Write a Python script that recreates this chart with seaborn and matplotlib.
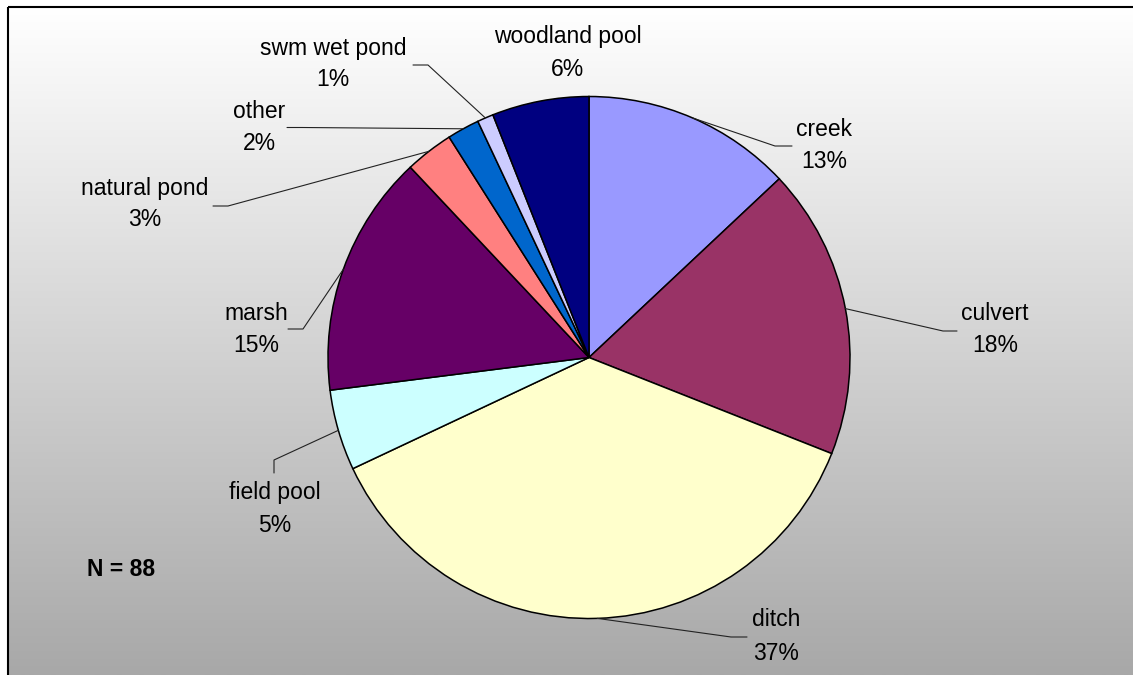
import matplotlib
matplotlib.use("Agg")
import matplotlib.pyplot as plt
import numpy as np
import seaborn as sns

# ---- data ----
categories = ["creek", "culvert", "ditch", "field pool", "marsh",
              "natural pond", "other", "swm wet pond", "woodland pool"]
percent = [13, 18, 37, 5, 15, 3, 2, 1, 6]
colors = ["#9999FF", "#993366", "#FFFFCC", "#CCFFFF", "#660066",
          "#FF8080", "#0066CC", "#CCCCFF", "#000080"]
n_total = 88

# ---- layout (pixels, y down) ----
W, H = 1133, 675
CX, CY, R = 589, 357.5, 261
label_xy = {  # x, y of name, y of percent
    "creek": (824, 130, 162),
    "culvert": (995, 314, 345),
    "ditch": (776, 620, 653),
    "field pool": (275, 493, 526),
    "marsh": (256, 313, 345),
    "natural pond": (145, 188, 220),
    "other": (259, 111, 143),
    "swm wet pond": (333, 48, 80),
    "woodland pool": (568, 37, 69),
}
elbows = {
    "creek": [(792, 146), (775, 146)],
    "culvert": [(957, 331), (943, 331)],
    "ditch": [(747, 637), (731, 637)],
    "field pool": [(274, 473), (274, 460)],
    "marsh": [(288, 329), (303, 329)],
    "natural pond": [(213, 206), (228, 206)],
    "other": [(287, 127.5), (302, 127.5)],
    "swm wet pond": [(413, 65), (428, 65)],
}

sns.set_style("white")
plt.rcParams['font.family'] = ['Liberation Sans', 'DejaVu Sans']

fig = plt.figure(figsize=(W / 100, H / 100), dpi=100)
fig.patch.set_facecolor("white")
ax = fig.add_axes([0, 0, 1, 1])

# gradient background inside frame
g = np.linspace(255, 168, 400) / 255.0
grad = np.repeat(g[:, None, None], 3, axis=2)
ax.imshow(grad, extent=(8, W, H, 6.5), aspect="auto", zorder=0,
          interpolation="bilinear")

# frame lines
ax.plot([8, 8], [6.5, H], color="black", lw=1.5, zorder=1, solid_capstyle="butt")
ax.plot([8, W], [6.5, 6.5], color="black", lw=1.5, zorder=1, solid_capstyle="butt")

pal = sns.color_palette(colors)
wedges, _ = ax.pie(percent, colors=pal, startangle=-90, counterclock=True,
                   center=(CX, CY), radius=R,
                   wedgeprops=dict(edgecolor="black", linewidth=1.1, zorder=2))

ax.set_xlim(0, W)
ax.set_ylim(H, 0)
ax.set_aspect("auto")
ax.axis("off")

cum = np.cumsum([0] + percent[:-1])
total = float(sum(percent))
for cat, p, c0 in zip(categories, percent, cum):
    mid = (c0 + p / 2.0) / total
    th = np.deg2rad(-90 + 360 * mid)
    ex, ey = CX + R * np.cos(th), CY + R * np.sin(th)
    if cat in elbows:
        pts = elbows[cat] + [(ex, ey)]
        xs, ys = zip(*pts)
        ax.plot(xs, ys, color="#222222", lw=0.8, zorder=3)
    x, yn, yp = label_xy[cat]
    ax.text(x, yn, cat, ha="center", va="center", fontsize=16.5, color="black", zorder=4)
    ax.text(x, yp, f"{p}%", ha="center", va="center", fontsize=16.5, color="black", zorder=4)

ax.text(121, 569, f"N = {n_total}", ha="center", va="center", fontsize=16.5,
        fontweight="bold", color="black", zorder=4)

fig.savefig("out.png", dpi=100)
